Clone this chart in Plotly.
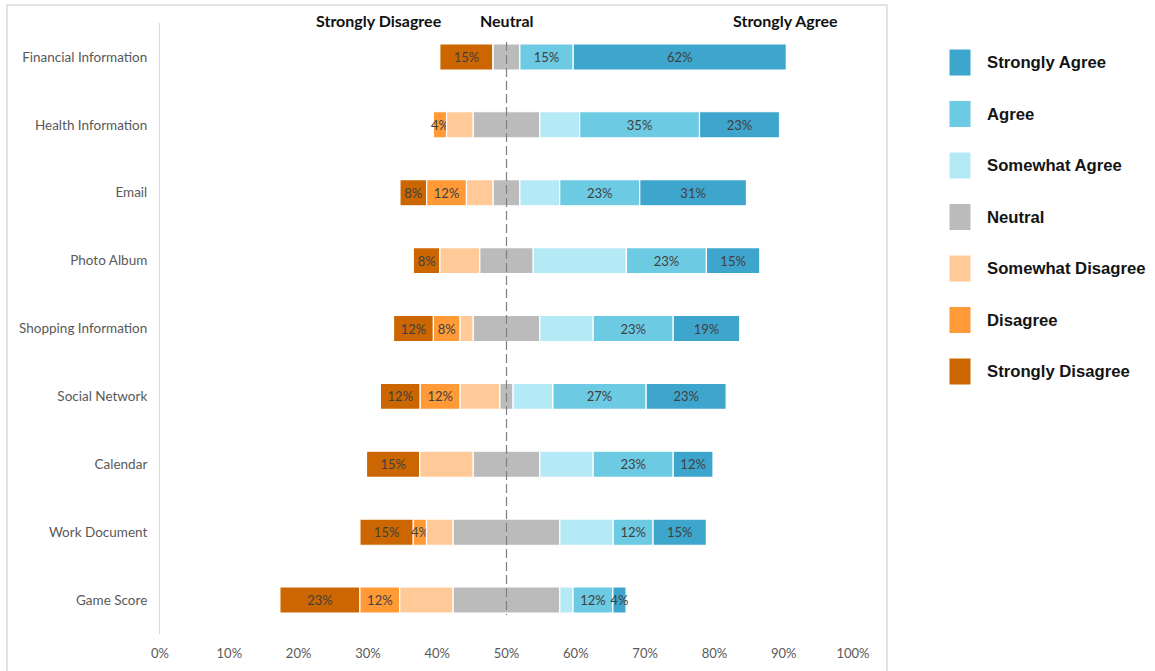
import plotly.graph_objects as go

# Survey: share of respondents per answer (n = 26), in percent
categories = [
    "Financial Information", "Health Information", "Email", "Photo Album",
    "Shopping Information", "Social Network", "Calendar", "Work Document",
    "Game Score",
]
strongly_disagree = [15.4, 0.0, 7.7, 7.7, 11.5, 11.5, 15.4, 15.4, 23.1]
disagree = [0.0, 3.8, 11.5, 0.0, 7.7, 11.5, 0.0, 3.8, 11.5]
somewhat_disagree = [0.0, 7.7, 7.7, 11.5, 3.8, 11.5, 15.4, 7.7, 15.4]
neutral = [7.7, 19.2, 7.7, 15.4, 19.2, 3.8, 19.2, 30.8, 30.8]
somewhat_agree = [0.0, 11.5, 11.5, 26.9, 15.4, 11.5, 15.4, 15.4, 3.8]
agree = [15.4, 34.6, 23.1, 23.1, 23.1, 26.9, 23.1, 11.5, 11.5]
strongly_agree = [61.5, 23.1, 30.8, 15.4, 19.2, 23.1, 11.5, 15.4, 3.8]

x_tick_values = [0, 10, 20, 30, 40, 50, 60, 70, 80, 90, 100]
x_tick_labels = ["0%", "10%", "20%", "30%", "40%", "50%", "60%", "70%", "80%", "90%", "100%"]

# series drawn left to right, with their fill colours and whether they carry labels
series = [
    ("Strongly Disagree", strongly_disagree, "#CC6600", True),
    ("Disagree", disagree, "#FF9A36", True),
    ("Somewhat Disagree", somewhat_disagree, "#FFCA98", False),
    ("Neutral", neutral, "#BBBBBB", False),
    ("Somewhat Agree", somewhat_agree, "#B4E9F6", False),
    ("Agree", agree, "#6CCAE3", True),
    ("Strongly Agree", strongly_agree, "#3EA6CC", True),
]
legend_order = ["Strongly Agree", "Agree", "Somewhat Agree", "Neutral",
                "Somewhat Disagree", "Disagree", "Strongly Disagree"]

SCALE = 0.5      # one response percent spans half a percent of the axis
CENTER = 50.0    # neutral block is centred on this axis value

# left edge of each row so that the neutral block straddles the centre line
left = [
    CENTER - n * SCALE / 2 - (sd + d + smd) * SCALE
    for sd, d, smd, n in zip(strongly_disagree, disagree, somewhat_disagree, neutral)
]


def pct_text(v):
    return f"{int(v + 0.5)}%" if v > 0 else ""


fig = go.Figure()
running = list(left)
for name, values, color, labelled in series:
    widths = [v * SCALE for v in values]
    fig.add_trace(go.Bar(
        name=name,
        y=categories,
        x=widths,
        base=list(running),
        orientation="h",
        width=0.385,
        marker=dict(color=color, line=dict(color="#FFFFFF", width=1.2)),
        text=[pct_text(v) for v in values] if labelled else None,
        textposition="inside",
        insidetextanchor="middle",
        textangle=0,
        constraintext="none",
        textfont=dict(family="Lato", size=13, color="#404040"),
        cliponaxis=False,
        showlegend=False,
        hovertemplate=name + ": %{customdata:.0f}%<extra>%{y}</extra>",
        customdata=values,
    ))
    running = [r + w for r, w in zip(running, widths)]

n_rows = len(categories)
shapes = [
    # dashed centre line through the neutral blocks
    dict(type="line", xref="x", yref="y", x0=CENTER, x1=CENTER,
         y0=-0.22, y1=n_rows - 1 + 0.22,
         line=dict(color="#7F7F7F", width=1.2, dash="9px,4px"), layer="above"),
    # chart frame
    dict(type="rect", xref="paper", yref="paper", x0=-0.2208, x1=1.049,
         y0=-0.07, y1=1.0295, line=dict(color="#D9D9D9", width=1.5),
         fillcolor="rgba(0,0,0,0)", layer="below"),
]

annotations = []
# scale captions above the plot
for text, xpos in [("Strongly Disagree", 31.6), ("Neutral", 50.0), ("Strongly Agree", 90.3)]:
    annotations.append(dict(
        x=xpos, y=1.0035, xref="x", yref="paper", text=text, showarrow=False,
        xanchor="center", yanchor="middle",
        font=dict(family="Lato", size=16, color="#111111", weight="bold"),
    ))

# legend: swatches with their labels to the right of the frame
colors = {name: color for name, _, color, _ in series}
PLOT_L, PLOT_W, PLOT_T, PLOT_H = 160, 693, 23, 611
for i, name in enumerate(legend_order):
    cy = 62.5 + 51.5 * i
    x0 = (949 - PLOT_L) / PLOT_W
    x1 = (971 - PLOT_L) / PLOT_W
    y0 = 1 - (cy + 13.5 - PLOT_T) / PLOT_H
    y1 = 1 - (cy - 13.5 - PLOT_T) / PLOT_H
    shapes.append(dict(type="rect", xref="paper", yref="paper", x0=x0, x1=x1, y0=y0, y1=y1,
                       fillcolor=colors[name], line=dict(color="#FFFFFF", width=1)))
    annotations.append(dict(
        x=(985 - PLOT_L) / PLOT_W, y=1 - (cy - PLOT_T) / PLOT_H, xref="paper", yref="paper",
        text=name, showarrow=False, xanchor="left", yanchor="middle",
        font=dict(family="Liberation Sans", size=16.7, color="#141414", weight="bold"),
    ))

fig.update_layout(
    width=1155,
    height=671,
    margin=dict(l=160, r=302, t=23, b=37, autoexpand=False),
    paper_bgcolor="#FFFFFF",
    plot_bgcolor="#FFFFFF",
    barmode="overlay",
    showlegend=False,
    shapes=shapes,
    annotations=annotations,
    xaxis=dict(
        range=[0, 100],
        tickvals=x_tick_values,
        ticktext=x_tick_labels,
        showgrid=False,
        zeroline=False,
        showline=False,
        ticks="outside",
        ticklen=7,
        tickcolor="rgba(0,0,0,0)",
        tickfont=dict(family="Lato", size=13, color="#595959"),
        automargin=False,
        fixedrange=True,
    ),
    yaxis=dict(
        categoryorder="array",
        categoryarray=categories,
        autorange="reversed",
        showgrid=False,
        zeroline=False,
        showline=True,
        linecolor="#D9D9D9",
        linewidth=1,
        ticks="outside",
        ticklen=9,
        tickcolor="rgba(0,0,0,0)",
        tickfont=dict(family="Lato", size=13.5, color="#595959"),
        automargin=False,
        fixedrange=True,
    ),
)

fig.write_html("out.html")
